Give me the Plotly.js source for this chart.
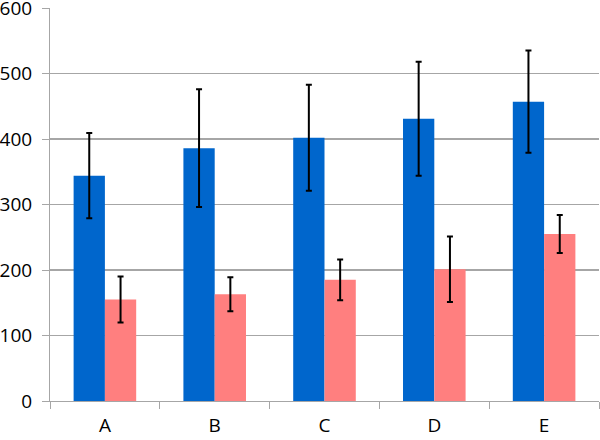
<!DOCTYPE html>
<html>
<head>
<meta charset="utf-8">
<script src="https://cdn.plot.ly/plotly-3.0.1.min.js"></script>
<style>html,body{margin:0;padding:0;background:#fff;}#chart{width:600px;height:440px;}</style>
</head>
<body>
<div id="chart"></div>
<script>
const categories = ['A', 'B', 'C', 'D', 'E'];
const blueValues = [344, 386, 402, 431, 457];
const blueErrors = [65, 90, 81, 87, 78];
const pinkValues = [155, 163, 185, 201, 255];
const pinkErrors = [35, 26, 31, 50, 29];
const yTicks = [0, 100, 200, 300, 400, 500, 600];

const errStyle = {type: 'data', visible: true, color: '#000000', thickness: 2, width: 3};

const traces = [
  {type: 'bar', x: categories, y: blueValues, name: 'Series 1',
   marker: {color: '#0066CC'},
   error_y: Object.assign({array: blueErrors}, errStyle)},
  {type: 'bar', x: categories, y: pinkValues, name: 'Series 2',
   marker: {color: '#FF7F7F'},
   error_y: Object.assign({array: pinkErrors}, errStyle)}
];

const layout = {
  width: 600, height: 440,
  margin: {l: 50, r: 1, t: 8, b: 39, pad: 0},
  paper_bgcolor: '#ffffff', plot_bgcolor: '#ffffff',
  showlegend: false,
  barmode: 'group', bargap: 0.43, bargroupgap: 0,
  font: {family: 'Open Sans, sans-serif', size: 19, color: '#000000'},
  xaxis: {
    type: 'category', showline: true, linecolor: '#a6a6a6', linewidth: 1,
    ticks: 'outside', tickson: 'boundaries', ticklen: 7, tickcolor: '#a6a6a6',
    showgrid: false, zeroline: false, ticklabelstandoff: 7,
    tickfont: {family: 'Open Sans, sans-serif', size: 19, color: '#000'}
  },
  yaxis: {
    range: [0, 600], tickvals: yTicks, ticktext: yTicks.map(String),
    showline: true, linecolor: '#a6a6a6', linewidth: 1,
    ticks: 'outside', ticklen: 7, tickcolor: '#a6a6a6',
    showgrid: true, gridcolor: '#a6a6a6', gridwidth: 1.3,
    zeroline: false, ticklabelstandoff: 6, ticklabeloverflow: 'allow',
    tickfont: {family: 'Open Sans, sans-serif', size: 19, color: '#000'}
  }
};

Plotly.newPlot('chart', traces, layout, {displayModeBar: false, staticPlot: true});
</script>
</body>
</html>
